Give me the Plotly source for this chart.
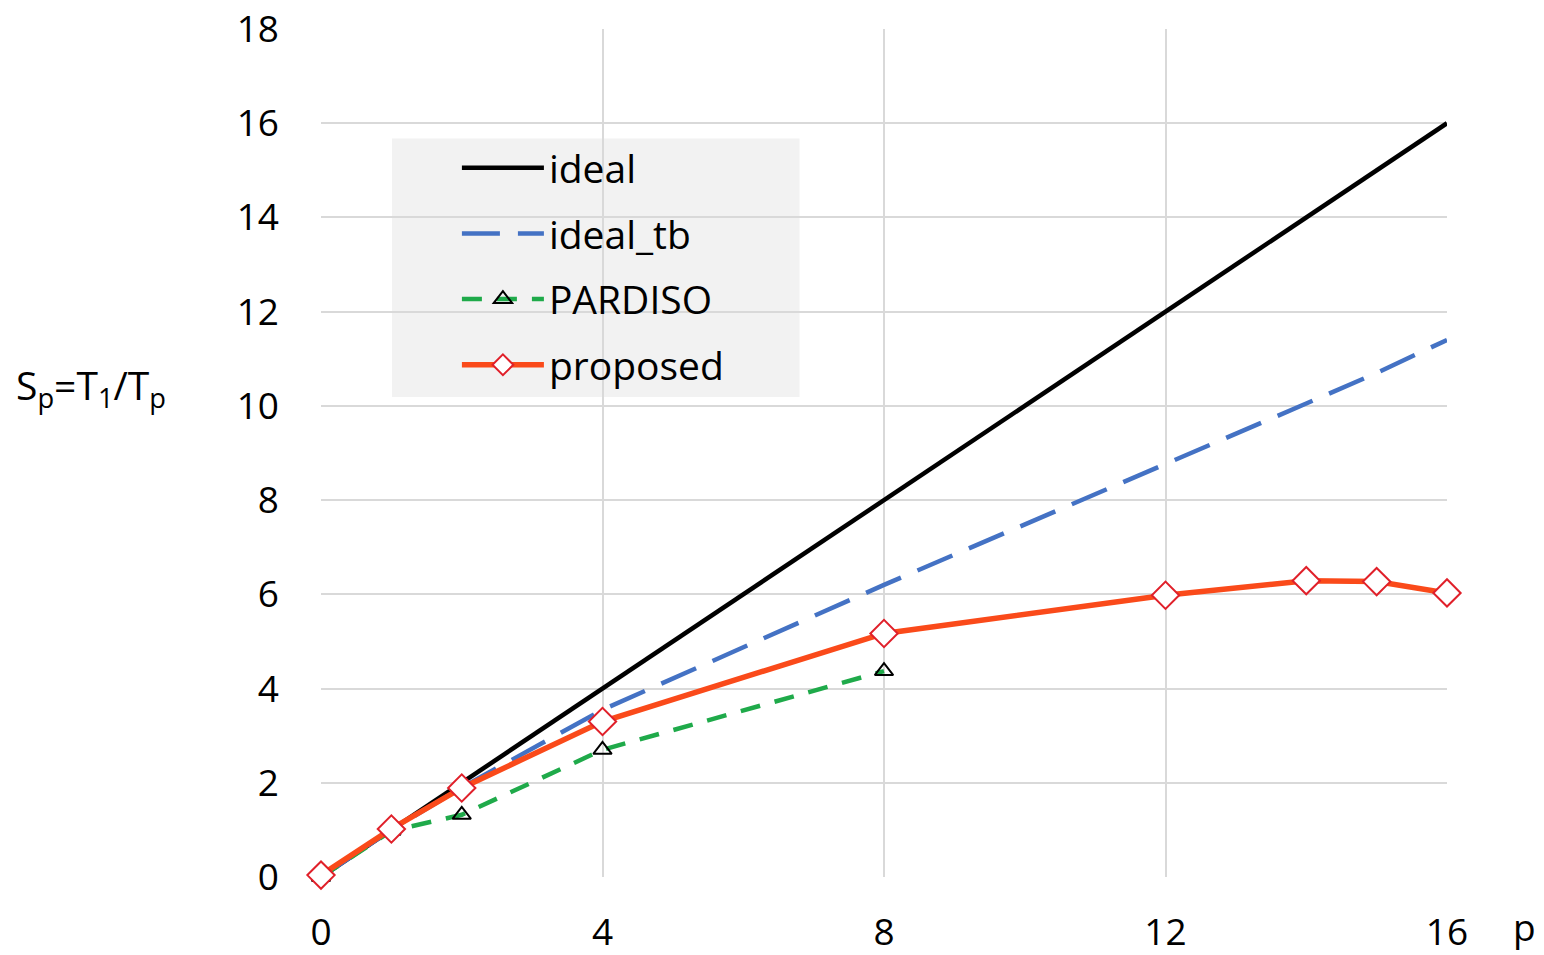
import plotly.graph_objects as go

p_ideal = [0, 1, 2, 4, 8, 12, 14, 15, 16]
ideal = [0, 1, 2, 4, 8, 12, 14, 15, 16]

p_tb = [0, 1, 2, 4, 8, 12, 14, 15, 16]
ideal_tb = [0, 1, 1.9, 3.55, 6.2, 8.75, 10.05, 10.7, 11.4]

p_pardiso = [0, 1, 2, 4, 8]
pardiso = [0, 0.98, 1.32, 2.7, 4.37]

p_prop = [0, 1, 2, 4, 8, 12, 14, 15, 16]
proposed = [0.04, 1.02, 1.89, 3.3, 5.17, 5.98, 6.29, 6.27, 6.03]

x_ticks = [0, 4, 8, 12, 16]
y_ticks = [0, 2, 4, 6, 8, 10, 12, 14, 16, 18]

FONT = "Open Sans"

fig = go.Figure()
fig.add_trace(go.Scatter(x=p_ideal, y=ideal, name="ideal", mode="lines", legendgroup="a",
                         line=dict(color="black", width=4.5)))
fig.add_trace(go.Scatter(x=p_tb, y=ideal_tb, name="ideal_tb", mode="lines", legendgroup="b",
                         line=dict(color="#4472C4", width=4.5, dash="38px,18px")))
fig.add_trace(go.Scatter(x=p_pardiso, y=pardiso, name="PARDISO", mode="lines+markers",
                         legendgroup="c",
                         line=dict(color="#1FAA4A", width=4.5, dash="20px,15px"),
                         marker=dict(symbol="triangle-up-open", size=16, color="black",
                                     line=dict(width=2, color="black")),
                         cliponaxis=False))
fig.add_trace(go.Scatter(x=p_prop, y=proposed, name="proposed", mode="lines+markers",
                         legendgroup="d",
                         line=dict(color="#FA4A1A", width=5.5),
                         marker=dict(symbol="diamond", size=21, color="white",
                                     line=dict(width=2, color="#E0202A")),
                         cliponaxis=False))

fig.update_layout(
    width=1544, height=955,
    margin=dict(l=321, r=97, t=29, b=78),
    paper_bgcolor="white", plot_bgcolor="white",
    font=dict(family=FONT, size=37, color="black"),
    showlegend=True,
    legend=dict(x=0.1207, y=0.874, xanchor="left", yanchor="top",
                bgcolor="rgba(0,0,0,0)", borderwidth=0,
                font=dict(size=39, family=FONT, color="black"),
                itemwidth=82, tracegroupgap=12,
                ),
    shapes=[dict(type="rect", xref="paper", yref="paper",
                 x0=0.063, x1=0.425, y0=0.566, y1=0.871,
                 fillcolor="#F2F2F2", line=dict(width=0), layer="between")],
    xaxis=dict(range=[0, 16], tickvals=x_ticks, showgrid=True, gridcolor="#D9D9D9",
               gridwidth=2, zeroline=False, showline=False, ticks="",
               automargin=False, ticklabeloverflow="allow",
               tickfont=dict(size=37, family=FONT), ticklabelstandoff=30),
    yaxis=dict(range=[0, 18], tickvals=y_ticks, showgrid=True, gridcolor="#D9D9D9",
               gridwidth=2, zeroline=False, showline=False, ticks="",
               automargin=False, ticklabeloverflow="allow",
               tickfont=dict(size=37, family=FONT), ticklabelstandoff=41),
    annotations=[
        dict(text="S<sub>p</sub>=T<sub>1</sub>/T<sub>p</sub>", xref="paper", yref="paper",
             x=-0.204, y=0.578, xanchor="center", yanchor="middle", showarrow=False,
             font=dict(size=39, family=FONT)),
        dict(text="p", xref="paper", yref="paper", x=1.069, y=-0.058,
             xanchor="center", yanchor="middle", showarrow=False,
             font=dict(size=37, family=FONT)),
    ],
)

fig.write_html(
    "out.html",
    config={"displayModeBar": False},
    post_script="document.body.style.margin='0';document.body.style.overflow='hidden';",
)
